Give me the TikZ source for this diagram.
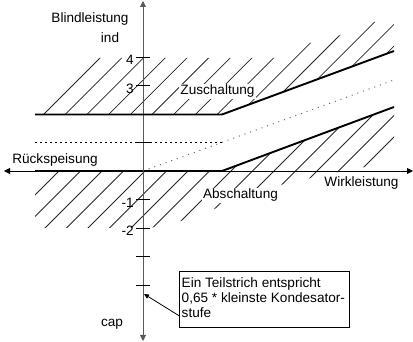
\documentclass[tikz,border=0pt]{standalone}
\usepackage{fontspec}
\setmainfont{Liberation Sans}
\usetikzlibrary{arrows.meta}
\begin{document}
\begin{tikzpicture}[x=1pt,y=-1pt,
  lbl/.style={font=\fontsize{13.6}{15}\selectfont, inner sep=0pt, anchor=base},
  thickln/.style={line width=1.9pt},
  hatchln/.style={line width=0.75pt, black!85},
  axisln/.style={line width=0.9pt},
  tickmark/.style={line width=0.9pt},
  bothtips/.style={{Triangle[length=6pt,width=6pt]}-{Triangle[length=6pt,width=6pt]}},
  bigdots/.style={line width=1.9pt, dash pattern=on 1.9pt off 3.1pt},
  smalldots/.style={line width=1pt, black!60, dash pattern=on 1pt off 5pt}
]
\useasboundingbox (0,0) rectangle (413,342);

% hatching, upper region
\begin{scope}
\clip (35,58) -- (275,58) -- (310,43) -- (338,36) -- (372,22) -- (394,22) -- (394,51) -- (222,114.5) -- (35,114.5) -- cycle;
\foreach \k in {0,...,14} {
  \pgfmathsetmacro\c{158+21.7*\k}
  \draw[hatchln] (\c-130,130) -- (\c,0);
}
\end{scope}
% hatching, lower region
\begin{scope}
\clip (35,171) -- (222,171) -- (394,107) -- (394,160) -- (365,167) -- (338,172) -- (307,179) -- (280,185) -- (178,222) -- (150,228) -- (35,228) -- cycle;
\foreach \k in {0,...,14} {
  \pgfmathsetmacro\c{230+21.5*\k}
  \draw[hatchln] (\c-240,240) -- (\c-100,100);
}
\end{scope}

% coordinates
\coordinate (L1) at (35,114.5);
\coordinate (K1) at (222,114.5);
\coordinate (R1) at (394,51);
\coordinate (L2) at (35,171);
\coordinate (K2) at (222,171);
\coordinate (R2) at (394,107);
\coordinate (D1) at (35,142.5);
\coordinate (D2) at (223,142.5);
\coordinate (O) at (143,171);
\coordinate (D3) at (394,80);
\coordinate (xl) at (4,171);
\coordinate (xr) at (413,171);
\coordinate (yt) at (143,1);
\coordinate (yb) at (143,341);

% axes
\draw[axisln, bothtips] (xl) -- (xr);
\draw[axisln, black!65, bothtips] (yt) -- (yb);
\foreach \y in {57,85.5,142.5,199.5,228,256.5,285}
  \draw[tickmark] (136,\y) -- (150,\y);

% characteristic lines
\draw[thickln] (L1) -- (K1) -- (R1);
\draw[thickln] (L2) -- (K2) -- (R2);
\draw[bigdots] (D1) -- (D2);
\draw[smalldots] (O) -- (D3);

% labels
\node[lbl] (blind) at (90,23) {Blindleistung};
\node[lbl] (ind) at (110,43) {ind};
\node[lbl, fill=white, inner sep=1pt] (zu) at (217.5,95) {Zuschaltung};
\node[lbl] (rueck) at (55,164) {Rückspeisung};
\node[lbl, fill=white, inner sep=1pt] (ab) at (240.5,199) {Abschaltung};
\node[lbl] (wirk) at (361.5,187) {Wirkleistung};
\node[lbl] (cap) at (112,326.5) {cap};
\node[lbl, anchor=base east] (n4) at (134,65) {4};
\node[lbl, anchor=base east] (n3) at (134,93.5) {3};
\node[lbl, anchor=base east] (nm1) at (134,207.5) {-1};
\node[lbl, anchor=base east] (nm2) at (134,236) {-2};

% note box
\node[draw, line width=0.8pt, minimum width=170pt, minimum height=56pt, inner sep=0pt] (box) at (264,299) {};
\node[lbl, anchor=north west, align=left] (boxtxt) at (181.5,277) {Ein Teilstrich entspricht\\0,65 * kleinste Kondesator-\\stufe};
\coordinate (astart) at (179.5,316);
\coordinate (atip) at (144,294);
\draw[line width=0.8pt, -{Triangle[length=5pt,width=4.5pt]}] (astart) -- (atip);
\end{tikzpicture}
\end{document}
